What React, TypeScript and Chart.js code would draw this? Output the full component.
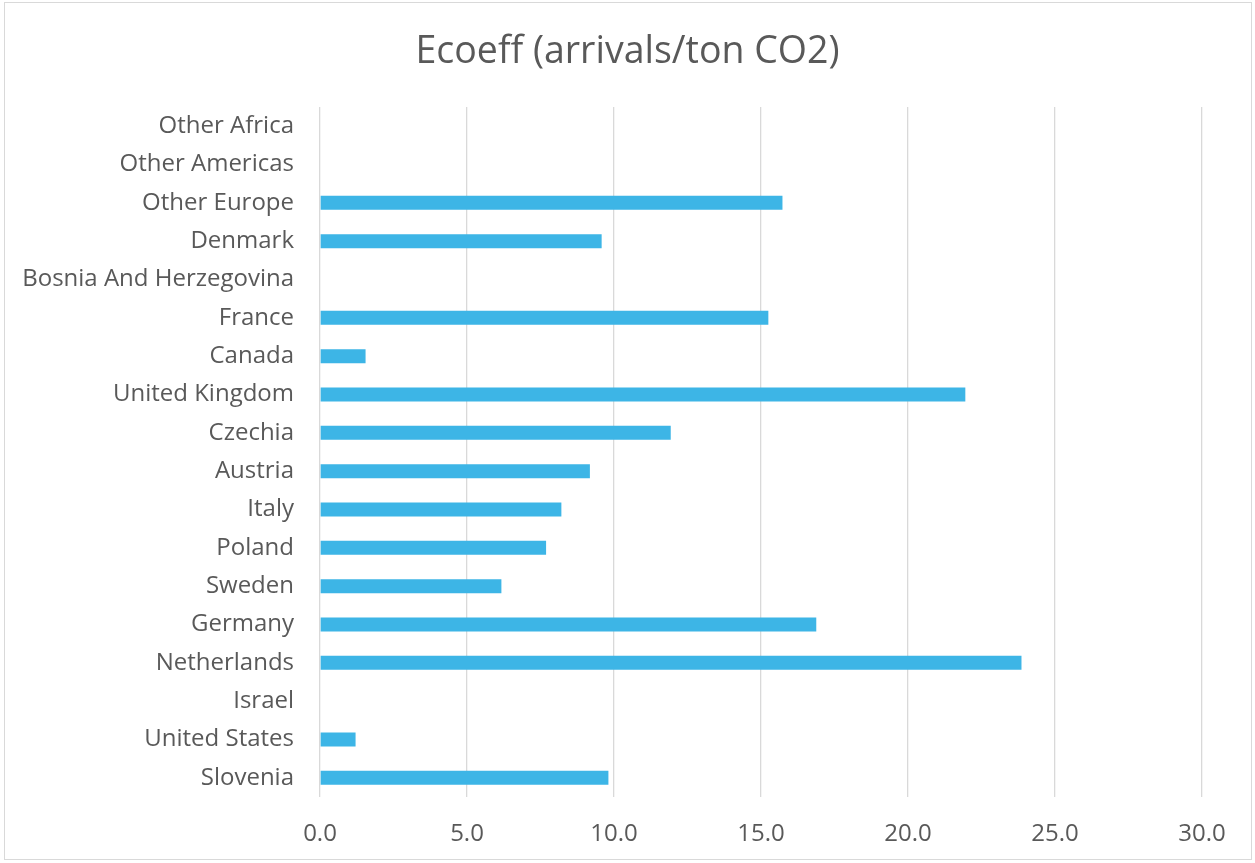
import React, { useEffect, useRef } from "react";
import { Chart, registerables } from "chart.js";

Chart.register(...registerables);

const chartTitle = "Ecoeff (arrivals/ton CO2)";

const categories = [
  "Other Africa",
  "Other Americas",
  "Other Europe",
  "Denmark",
  "Bosnia And Herzegovina",
  "France",
  "Canada",
  "United Kingdom",
  "Czechia",
  "Austria",
  "Italy",
  "Poland",
  "Sweden",
  "Germany",
  "Netherlands",
  "Israel",
  "United States",
  "Slovenia",
];

const ecoeffValues: (number | null)[] = [
  null,
  null,
  15.73,
  9.58,
  null,
  15.25,
  1.55,
  21.95,
  11.93,
  9.18,
  8.21,
  7.69,
  6.17,
  16.88,
  23.86,
  null,
  1.21,
  9.81,
];

const xTickValues = [0, 5, 10, 15, 20, 25, 30];

const TEXT_COLOR = "#595959";
const FONT_FAMILY = "'Open Sans', 'Noto Sans', sans-serif";

export default function App() {
  const ref = useRef<HTMLCanvasElement>(null);

  useEffect(() => {
    document.body.style.margin = "0";
    const canvas = ref.current;
    if (!canvas) return;
    const chart = new Chart(canvas, {
      type: "bar",
      data: {
        labels: categories,
        datasets: [
          {
            label: chartTitle,
            data: ecoeffValues,
            backgroundColor: "#3DB5E6",
            borderWidth: 0,
            barPercentage: 0.365,
            categoryPercentage: 1,
            yAxisID: "y",
          },
        ],
      },
      options: {
        indexAxis: "y",
        animation: false,
        responsive: false,
        maintainAspectRatio: false,
        layout: { padding: 0 },
        plugins: {
          legend: { display: false },
          tooltip: { enabled: false },
          title: {
            display: true,
            text: chartTitle,
            color: TEXT_COLOR,
            font: { family: FONT_FAMILY, size: 37.5, weight: "normal" },
            padding: { top: 30, bottom: 32 },
          },
        },
        scales: {
          x: {
            type: "linear",
            min: 0,
            max: 30,
            afterBuildTicks: (scale: any) => {
              scale.ticks = xTickValues.map((v) => ({ value: v }));
            },
            afterFit: (scale: any) => {
              scale.height = 66;
            },
            ticks: {
              color: TEXT_COLOR,
              font: { family: FONT_FAMILY, size: 24 },
              padding: 23,
              maxRotation: 0,
              callback: (v: any) => Number(v).toFixed(1),
            },
            grid: { color: "#d9d9d9", lineWidth: 1.3, drawTicks: false },
            border: { display: false },
          },
          y: {
            position: "left",
            afterFit: (scale: any) => {
              scale.width = 320;
            },
            ticks: {
              color: TEXT_COLOR,
              font: { family: FONT_FAMILY, size: 24 },
              padding: 26,
              autoSkip: false,
            },
            grid: { display: false, drawTicks: false },
            border: { display: false },
          },
          yRightSpace: {
            type: "category",
            position: "right",
            labels: categories,
            afterFit: (scale: any) => {
              scale.width = 53;
            },
            ticks: { display: false },
            grid: { display: false, drawTicks: false },
            border: { display: false },
          },
        },
      },
    });
    return () => chart.destroy();
  }, []);

  return (
    <div style={{ position: "relative", width: 1255, height: 863 }}>
      <div
        style={{
          position: "absolute",
          left: 4,
          top: 2,
          width: 1246,
          height: 856,
          border: "1px solid #d9d9d9",
        }}
      />
      <canvas
        ref={ref}
        width={1255}
        height={863}
        style={{ position: "absolute", left: 0, top: 0, width: 1255, height: 863 }}
      />
    </div>
  );
}
